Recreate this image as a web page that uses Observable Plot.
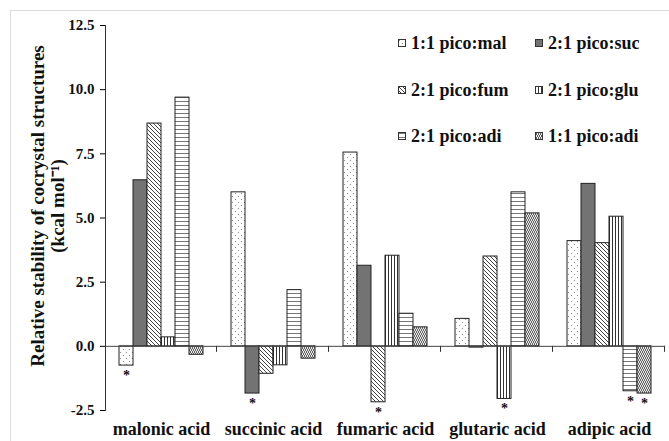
<!DOCTYPE html>
<html>
<head>
<meta charset="utf-8">
<script src="https://cdn.jsdelivr.net/npm/d3@7"></script>
<script src="https://cdn.jsdelivr.net/npm/@observablehq/plot@0.6"></script>
<style>
  html, body { margin: 0; padding: 0; background: #fff; }
  #wrap { position: relative; width: 669px; height: 441px; overflow: hidden; background: #fff; }
  #frame { position: absolute; left: 10px; top: 10px; width: 800px; height: 600px;
           border-top: 1px solid #dcdcdc; border-left: 1px solid #dcdcdc; }
  #chart { position: absolute; left: 0; top: 0; }
  #chart svg, #chart svg text { font-family: "Liberation Serif", "Times New Roman", serif; font-weight: bold; fill: #111; }
  #chart [aria-label="y-axis tick label"] { font-size: 15px; }
  #chart [aria-label="fx-axis tick label"] { font-size: 18px; }
  #legend { position: absolute; left: 398px; top: 33px; display: grid;
            grid-template-columns: 137px auto; row-gap: 26.5px;
            font-family: "Liberation Serif", "Times New Roman", serif; font-weight: bold; font-size: 18px; color: #111; }
  #legend .item { display: flex; align-items: center; height: 20px; line-height: 20px; white-space: nowrap; }
  #legend svg { margin-right: 5px; flex: none; }
</style>
</head>
<body>
<svg width="0" height="0" style="position:absolute">
  <defs>
    <pattern id="p-mal" width="6" height="6" patternUnits="userSpaceOnUse">
      <rect width="6" height="6" fill="#fff"/>
      <circle cx="1.5" cy="1.5" r="0.6" fill="#777"/>
      <circle cx="4.5" cy="4.5" r="0.6" fill="#777"/>
    </pattern>
    <pattern id="p-fum" width="4" height="4" patternUnits="userSpaceOnUse">
      <rect width="4" height="4" fill="#fff"/>
      <path d="M-1,-1 L5,5 M-1,3 L1,5 M3,-1 L5,1" stroke="#444" stroke-width="1"/>
    </pattern>
    <pattern id="p-glu" width="3" height="3" patternUnits="userSpaceOnUse">
      <rect width="3" height="3" fill="#fff"/>
      <line x1="0.5" x2="0.5" y1="0" y2="3" stroke="#333" stroke-width="1"/>
    </pattern>
    <pattern id="p-adi2" width="4" height="4" patternUnits="userSpaceOnUse">
      <rect width="4" height="4" fill="#fff"/>
      <path d="M0,1 L1,2 L2,1 L3,2 L4,1" stroke="#555" stroke-width="0.8" fill="none"/>
    </pattern>
    <pattern id="p-adi1" width="4" height="4" patternUnits="userSpaceOnUse">
      <rect width="4" height="4" fill="#e8e8e8"/>
      <path d="M0,0 L2,2 L0,4 M2,0 L4,2 L2,4" stroke="#555" stroke-width="0.9" fill="none"/>
    </pattern>
  </defs>
</svg>
<div id="wrap">
  <div id="frame"></div>
  <div id="chart"></div>
  <div id="legend"></div>
</div>
<script>
// ---- data ----
const acids = ["malonic acid", "succinic acid", "fumaric acid", "glutaric acid", "adipic acid"];
const seriesNames = ["1:1 pico:mal", "2:1 pico:suc", "2:1 pico:fum", "2:1 pico:glu", "2:1 pico:adi", "1:1 pico:adi"];
const picoMal11 = [-0.75, 6.0, 7.55, 1.07, 4.1];
const picoSuc21 = [6.47, -1.84, 3.14, -0.05, 6.33];
const picoFum21 = [8.68, -1.07, -2.18, 3.5, 4.02];
const picoGlu21 = [0.35, -0.74, 3.53, -2.05, 5.05];
const picoAdi21 = [9.69, 2.19, 1.27, 6.0, -1.75];
const picoAdi11 = [-0.33, -0.48, 0.74, 5.18, -1.84];
const yTicks = [-2.5, 0, 2.5, 5, 7.5, 10, 12.5];
const starred = [
  ["malonic acid", "1:1 pico:mal"],
  ["succinic acid", "2:1 pico:suc"],
  ["fumaric acid", "2:1 pico:fum"],
  ["glutaric acid", "2:1 pico:glu"],
  ["adipic acid", "2:1 pico:adi"],
  ["adipic acid", "1:1 pico:adi"]
];
const yTitle = "Relative stability of cocrystal structures\n(kcal mol\u207B\u00B9)";

// ---- styles ----
const fills = {
  "1:1 pico:mal": "url(#p-mal)",
  "2:1 pico:suc": "#737373",
  "2:1 pico:fum": "url(#p-fum)",
  "2:1 pico:glu": "url(#p-glu)",
  "2:1 pico:adi": "url(#p-adi2)",
  "1:1 pico:adi": "url(#p-adi1)"
};
const serif = "'Liberation Serif', 'Times New Roman', serif";

const valuesBySeries = [picoMal11, picoSuc21, picoFum21, picoGlu21, picoAdi21, picoAdi11];
const rows = acids.flatMap((a, i) => seriesNames.map((s, j) => ({acid: a, series: s, value: valuesBySeries[j][i]})));
const starRows = rows.filter(r => starred.some(([a, s]) => a === r.acid && s === r.series));

function groupTicks(index, scales, values, dimensions, context) {
  const g = d3.create("svg:g");
  const xr = scales.x.range();
  const x1 = Math.max(xr[0], xr[1]) - 0.5;
  const y0 = scales.y(0);
  g.append("line").attr("x1", x1).attr("x2", x1).attr("y1", y0).attr("y2", y0 + 6)
    .attr("stroke", "#333").attr("stroke-width", 1);
  return g.node();
}

const chart = Plot.plot({
  width: 669,
  height: 441,
  marginLeft: 103,
  marginRight: 3,
  marginTop: 25,
  marginBottom: 31,
  style: {fontFamily: serif, fontWeight: "bold"},
  fx: {domain: acids, padding: 0, label: null},
  x: {domain: seriesNames, paddingInner: 0, paddingOuter: 0.75, axis: null},
  y: {domain: [-2.5, 12.5], label: null},
  marks: [
    Plot.barY(rows, {fx: "acid", x: "series", y: "value", fill: d => fills[d.series], stroke: "#222", strokeWidth: 1}),
    Plot.ruleY([0], {stroke: "#444", strokeWidth: 1}),
    groupTicks,
    Plot.frame({anchor: "left", facetAnchor: "left", stroke: "#333"}),
    Plot.text(starRows, {fx: "acid", x: "series", y: "value", text: () => "*", dy: 10, fontSize: 14, fontFamily: serif}),
    Plot.axisY({ticks: yTicks, tickFormat: d => d.toFixed(1), tickSize: 5, tickPadding: 6, fontFamily: serif, label: null}),
    Plot.text([yTitle], {frameAnchor: "left", facetAnchor: "left", rotate: -90, lineAnchor: "top", textAnchor: "middle",
                         dx: -76, dy: -12, fontSize: 19, lineHeight: 1.05, fontFamily: serif, fontWeight: "bold"}),
    Plot.axisFx({anchor: "bottom", tickSize: 0, tickPadding: 12, label: null, fontFamily: serif})
  ]
});
document.getElementById("chart").appendChild(chart);

// ---- legend ----
const legend = d3.select("#legend");
seriesNames.forEach(s => {
  const item = legend.append("div").attr("class", "item");
  const sw = item.append("svg").attr("width", 8).attr("height", 8);
  sw.append("rect").attr("x", 0.5).attr("y", 0.5).attr("width", 7).attr("height", 7)
    .attr("fill", fills[s]).attr("stroke", "#333").attr("stroke-width", 1);
  item.append("span").text(s);
});
</script>
</body>
</html>
